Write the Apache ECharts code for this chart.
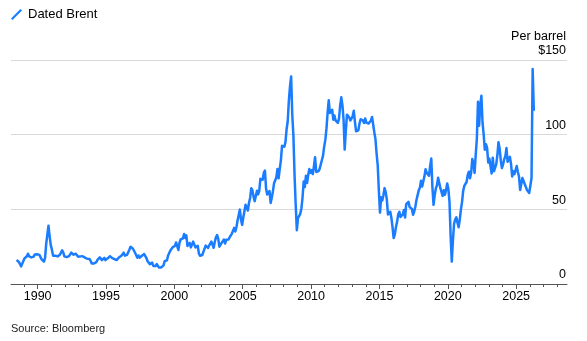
<!DOCTYPE html>
<html>
<head>
<meta charset="utf-8">
<script src="https://cdn.jsdelivr.net/npm/echarts@6/dist/echarts.min.js"></script>
<style>
  html, body { margin: 0; padding: 0; background: #fff; }
  #chart { width: 587px; height: 341px; }
</style>
</head>
<body>
<div id="chart"></div>
<script>
// Dated Brent, monthly, US$ per barrel. First value = June 1988.
const seriesName = 'Dated Brent';
const startYear = 1988;
const startMonthIndex = 5; // June
const prices1988to1999 = [
  16, 15, 14.8, 13.5, 11.8, 13, 15.5,
  17.2, 16.9, 18.6, 20.3, 18.5, 17.9, 17.8, 17.1, 18.3, 19.8, 18.9, 19.9,
  21, 19.5, 18.3, 16.5, 16.2, 15, 17.5, 27, 33, 39, 32, 26,
  23, 19, 19.5, 19, 19, 18.5, 19.5, 19.6, 20.2, 22.5, 21, 18.5,
  18.2, 18, 17.5, 18.7, 19.8, 21, 20.2, 19.6, 20.2, 20.3, 19.2, 18.3,
  17.4, 18.5, 18.8, 18.6, 18.5, 17.7, 16.8, 16.9, 16.3, 16.8, 15.4, 13.8,
  15, 13.8, 13.6, 14.6, 16.2, 17, 17.8, 16.8, 16, 16.3, 17.5, 16,
  16.5, 17.2, 17, 18.6, 18.4, 17.3, 16.1, 16.6, 16.9, 16.1, 17, 17.9,
  18.6, 18.9, 20, 21, 19, 18.6, 19.6, 20.5, 22.9, 24.9, 23.7, 23.8,
  23.5, 20.9, 19.2, 17.6, 19.1, 17.6, 18.9, 18.9, 18.7, 20, 19.2, 17.4,
  15.2, 14, 13.3, 13.4, 14.3, 12.1, 12.1, 12, 13.4, 12.8, 11, 9.8,
  11.1, 10.3, 12.5, 15.3, 15.3, 15.9, 19.1, 20.3, 22.5, 22, 24.6, 25.5
];
const prices2000s = [
  25.5, 27.8, 27.5, 22.8, 27.6, 29.8, 28.6, 30.5, 33.5, 30.9, 32.6, 25.4,
  25.6, 27.5, 24.5, 25.7, 28.4, 27.7, 24.5, 25.8, 25.6, 20.5, 18.9, 18.7,
  19.4, 20.3, 23.7, 25.7, 25.4, 24.1, 25.7, 26.6, 28.4, 27.5, 24.3, 28.3,
  31.2, 32.8, 30.4, 25, 25.8, 27.5, 28.4, 29.8, 27.1, 29.6, 28.8, 29.8,
  31.2, 30.9, 33.8, 33.4, 37.6, 35.2, 38.2, 42.7, 43.2, 49.8, 43.1, 39.6,
  44.5, 45.5, 53.1, 51.9, 49.2, 54.4, 57.6, 64.1, 62.7, 58.5, 55.5, 56.7,
  62.5, 60, 62.3, 70.4, 70.9, 69.8, 74.4, 76, 63.8, 59.9, 59.5, 62.3,
  54.3, 57.8, 62.1, 67.5, 67.9, 71.3, 77, 70.8, 77.1, 82.8, 92.5, 91.4,
  92, 95, 103.6, 109, 122.8, 132.3, 139, 113, 99, 72.7, 53, 36,
  44, 43, 47, 50.6, 57.9, 68.6, 64.9, 72.5, 67.7, 73.2, 77, 74.5
];
const prices2010s = [
  76.2, 73.6, 78.8, 84.9, 75, 74.8, 75.6, 77.1, 78.4, 83, 86, 92,
  96.5, 104, 114.6, 123, 114.5, 113.9, 116.7, 110, 112.8, 109.5, 110.5, 107.9,
  110.7, 119.3, 125, 119.8, 110.3, 90, 102.6, 113.4, 113, 111.5, 109.5, 109.2,
  112.3, 116, 108.5, 102.3, 102.6, 102.9, 107.4, 110.3, 111.2, 109.5, 107.8, 110.8,
  108.1, 108.9, 107.5, 107.8, 109.5, 111.8, 106.8, 101.6, 97.1, 87.4, 79.4, 62.3,
  47.8, 58.1, 55.9, 59.5, 64.2, 61.5, 56.5, 46.5, 47.6, 48.4, 44.3, 38,
  30.8, 33.2, 38.2, 41.6, 46.7, 48.3, 44.9, 45.8, 46.6, 49.5, 44.5, 53.5,
  54.6, 55, 51.6, 52.3, 50.3, 46.4, 48.5, 51.7, 56.2, 57.5, 62.7, 64.4,
  69.1, 65.3, 66, 72.1, 76.9, 74.4, 74.3, 72.5, 78.9, 84, 64.8, 53,
  59.4, 64, 66.1, 71.2, 71.1, 64.2, 63.9, 59, 62.8, 59.7, 63.2, 67.3
];
const prices2020s = [
  63.6, 55, 32, 15, 29, 40.3, 43.2, 44.7, 41, 38, 43, 49.8,
  54.8, 62.3, 65.7, 64.8, 68.3, 73.1, 75.2, 70.8, 74.5, 83.7, 80.8, 74.4,
  86.5, 97.1, 122, 106, 120, 126, 108, 100, 89.9, 93.6, 91.1, 81.3,
  83.9, 83.5, 74, 84.6, 75.5, 74.9, 80.1, 86.2, 95, 90.6, 82.9, 77.6,
  80.1, 83.5, 85.4, 91, 81.8, 82.6, 85.2, 80.4, 72, 75.6, 73.6, 73.8,
  79, 75, 72, 63, 63, 71, 70, 67, 67, 63, 62, 61,
  66, 71, 144, 116
];
const yearTicks = [];
for (let y = 1988; y <= 2028; y++) yearTicks.push(y);
const yearLabels = [1990, 1995, 2000, 2005, 2010, 2015, 2020, 2025];
const priceTicks = [0, 50, 100, 150];
const sourceText = 'Source: Bloomberg';
const unitText = 'Per barrel';

const allPrices = prices1988to1999.concat(prices2000s, prices2010s, prices2020s);
const seriesData = allPrices.map((v, i) => [startYear + (startMonthIndex + i + 0.5) / 12, v]);

const FONT = '"Liberation Sans", Arial, Helvetica, sans-serif';
const BLUE = '#1a7cff';
const xMin = 1988.05, xMax = 2028.72;

const chart = echarts.init(document.getElementById('chart'), null, { renderer: 'canvas' });
chart.setOption({
  animation: false,
  textStyle: { fontFamily: FONT },
  title: {
    text: sourceText,
    left: 6,
    top: 318,
    textStyle: { fontFamily: FONT, fontSize: 11, fontWeight: 'normal', color: '#222' }
  },
  legend: {
    left: 6,
    top: 3,
    itemWidth: 11,
    itemHeight: 11,
    icon: 'path://M0,9.6 L8.6,1 L10,2.4 L1.4,11 Z',
    data: [seriesName],
    textStyle: { fontFamily: FONT, fontSize: 13, color: '#000', padding: [0, 0, 0, 1] }
  },
  grid: { left: 11, right: 20, top: 60, bottom: 57, containLabel: false },
  xAxis: [
    {
      type: 'value', min: xMin, max: xMax,
      axisLine: { show: true, lineStyle: { color: '#555', width: 1 } },
      axisTick: { show: true, length: 3, customValues: yearTicks, lineStyle: { color: '#555' } },
      axisLabel: { show: false },
      splitLine: { show: false }
    },
    {
      type: 'value', min: xMin, max: xMax, position: 'bottom',
      axisLine: { show: false },
      axisTick: { show: true, length: 5, customValues: yearLabels, lineStyle: { color: '#555' } },
      axisLabel: {
        show: true, customValues: yearLabels, margin: 6,
        formatter: v => String(v),
        fontFamily: FONT, fontSize: 12.5, color: '#000'
      },
      splitLine: { show: false }
    }
  ],
  yAxis: {
    type: 'value', position: 'right', min: 0, max: 150, interval: 50,
    axisLine: { show: false },
    axisTick: { show: false },
    splitLine: { show: true, lineStyle: { color: '#d9d9d9', width: 1 } },
    axisLabel: {
      inside: true, margin: 1,
      verticalAlign: 'bottom',
      align: 'right',
      lineHeight: 14,
      padding: [0, 0, 2, 0],
      fontFamily: FONT, fontSize: 12.5, color: '#000',
      formatter: v => v === 150 ? unitText + '\n$150' : String(v)
    }
  },
  series: [{
    name: seriesName,
    type: 'line',
    xAxisIndex: 0,
    data: seriesData,
    showSymbol: false,
    symbol: 'none',
    lineStyle: { color: BLUE, width: 2.5, join: 'round' },
    itemStyle: { color: BLUE },
    z: 3
  }]
});
</script>
</body>
</html>
